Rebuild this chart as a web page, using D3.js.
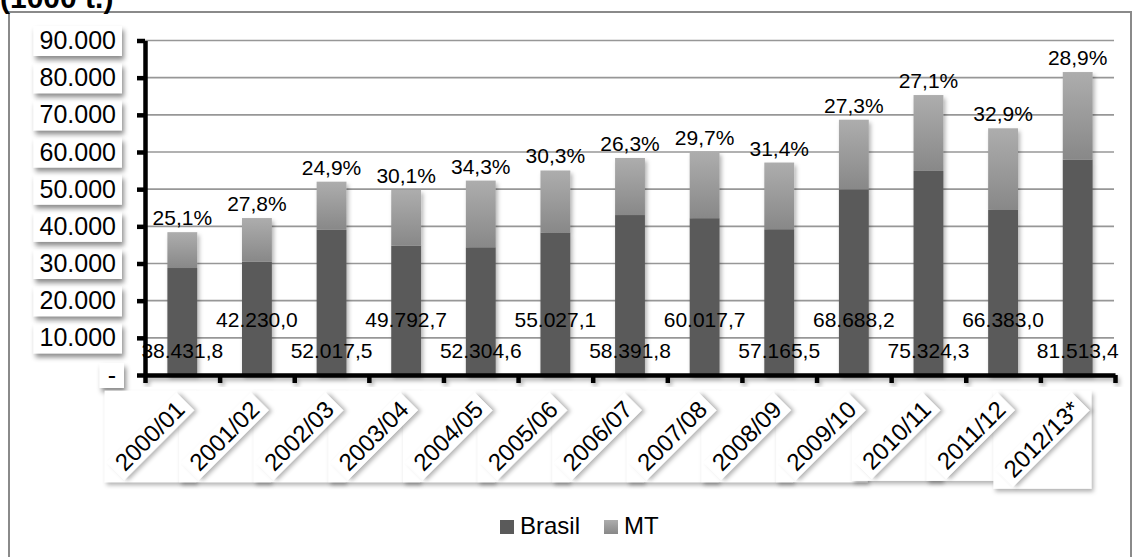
<!DOCTYPE html>
<html><head><meta charset="utf-8">
<script src="https://cdn.jsdelivr.net/npm/d3@7"></script>
<style>
body{margin:0;background:#fff}
svg{display:block;font-family:"Liberation Sans",Arial,sans-serif}
</style>
</head><body>
<svg id="c" width="1132" height="557"></svg>
<script>
// ---- data ----
const categories = ["2000/01","2001/02","2002/03","2003/04","2004/05","2005/06","2006/07","2007/08","2008/09","2009/10","2010/11","2011/12","2012/13*"];
const brasilTotal = [38431.8,42230.0,52017.5,49792.7,52304.6,55027.1,58391.8,60017.7,57165.5,68688.2,75324.3,66383.0,81513.4];
const mtShare = [25.1,27.8,24.9,30.1,34.3,30.3,26.3,29.7,31.4,27.3,27.1,32.9,28.9];
const brasilLabels = ["38.431,8","42.230,0","52.017,5","49.792,7","52.304,6","55.027,1","58.391,8","60.017,7","57.165,5","68.688,2","75.324,3","66.383,0","81.513,4"];
const shareLabels = ["25,1%","27,8%","24,9%","30,1%","34,3%","30,3%","26,3%","29,7%","31,4%","27,3%","27,1%","32,9%","28,9%"];
const yTickValues = [0,10000,20000,30000,40000,50000,60000,70000,80000,90000];
const yTickLabels = ["-","10.000","20.000","30.000","40.000","50.000","60.000","70.000","80.000","90.000"];
const seriesNames = ["Brasil","MT"];
const unitTitle = "(1000 t.)";

// ---- setup ----
const svg = d3.select("#c");
const defs = svg.append("defs");
const shadow = defs.append("filter").attr("id","sh").attr("x","-20%").attr("y","-20%").attr("width","150%").attr("height","160%");
shadow.append("feDropShadow").attr("dx",2).attr("dy",4).attr("stdDeviation",2.5).attr("flood-color","#000").attr("flood-opacity",0.45);
const shadowSoft = defs.append("filter").attr("id","shs").attr("x","-20%").attr("y","-20%").attr("width","150%").attr("height","160%");
shadowSoft.append("feDropShadow").attr("dx",2).attr("dy",3).attr("stdDeviation",2).attr("flood-color","#000").attr("flood-opacity",0.3);
const grad = defs.append("linearGradient").attr("id","mtg").attr("x1",0).attr("y1",0).attr("x2",0).attr("y2",1);
grad.append("stop").attr("offset","0%").attr("stop-color","#adadad");
grad.append("stop").attr("offset","100%").attr("stop-color","#888888");
const darkColor = "#5a5a5a";

// outer frame + title
svg.append("rect").attr("x",9).attr("y",12).attr("width",1122).attr("height",560)
  .attr("fill","none").attr("stroke","#8a8a8a").attr("stroke-width",2);
svg.append("text").attr("x",0).attr("y",8).attr("font-weight","bold").attr("font-size",30).text(unitTitle);

const y = d3.scaleLinear().domain([0,90000]).range([375,40.5]);
const x = d3.scaleBand().domain(categories).range([145,1115]).paddingInner(0.6).paddingOuter(0.3);
const xb = d3.scaleLinear().domain([0,categories.length]).range([145,1115]);
const cx = c => x(c) + x.bandwidth()/2;

// gridlines
svg.append("g").selectAll("line").data(yTickValues.filter(v=>v>0)).join("line")
  .attr("x1",145).attr("x2",1114).attr("y1",d=>y(d)).attr("y2",d=>y(d))
  .attr("stroke","#979797").attr("stroke-width",1.6);

// stacked bars
const rows = categories.map((c,i)=>{
  const mt = brasilTotal[i]*mtShare[i]/100;
  return {c,i,total:brasilTotal[i],base:brasilTotal[i]-mt,mt};
});
const bars = svg.append("g").attr("filter","url(#shs)");
bars.selectAll("rect.b").data(rows).join("rect").attr("class","b")
  .attr("x",d=>x(d.c)).attr("width",x.bandwidth())
  .attr("y",d=>y(d.base)).attr("height",d=>y(0)-y(d.base)).attr("fill",darkColor);
bars.selectAll("rect.m").data(rows).join("rect").attr("class","m")
  .attr("x",d=>x(d.c)).attr("width",x.bandwidth())
  .attr("y",d=>y(d.total)).attr("height",d=>y(d.base)-y(d.total)).attr("fill","url(#mtg)");

// Brasil total labels (alternating rows)
svg.append("g").selectAll("text").data(rows).join("text")
  .attr("x",d=>cx(d.c)).attr("y",d=>y(0)-(d.i%2===0?17:48))
  .attr("text-anchor","middle").attr("font-size",21).attr("fill","#000")
  .text(d=>brasilLabels[d.i]);

// axes
const yAxis = d3.axisLeft(y).tickValues(yTickValues).tickSize(8).tickSizeOuter(0).tickPadding(21)
  .tickFormat((d,i)=>yTickLabels[i]);
const gy = svg.append("g").attr("transform","translate(145,0)").call(yAxis);
gy.select(".domain").attr("stroke","#000").attr("stroke-width",4.5);
gy.selectAll(".tick line").attr("stroke","#000").attr("stroke-width",4.5);
gy.selectAll(".tick text").attr("font-size",25).attr("font-family","Liberation Sans, Arial, sans-serif").attr("fill","#000");
gy.selectAll(".tick").each(function(){
  const t = d3.select(this).select("text");
  const bb = t.node().getBBox();
  const isDash = t.text()==="-";
  const padX = isDash?8:6, h = isDash?25:30;
  d3.select(this).insert("rect","text")
    .attr("x",bb.x+bb.width-(bb.width+2*padX)+padX).attr("y",-h/2)
    .attr("width",bb.width+2*padX).attr("height",h)
    .attr("fill","#fff").attr("filter","url(#sh)");
});

const xAxis = d3.axisBottom(xb).tickValues(d3.range(categories.length+1)).tickSize(8).tickSizeOuter(0).tickFormat("");
const gx = svg.append("g").attr("transform",`translate(0,${y(0)})`).attr("filter","url(#shs)").call(xAxis);
gx.select(".domain").attr("stroke","#000").attr("stroke-width",4.5);
gx.selectAll(".tick line").attr("stroke","#000").attr("stroke-width",4.5);

// share labels above bars
svg.append("g").selectAll("text").data(rows).join("text")
  .attr("x",d=>cx(d.c)).attr("y",d=>y(d.total)-7)
  .attr("text-anchor","middle").attr("font-size",21).attr("fill","#000")
  .text(d=>shareLabels[d.i]);

// rotated category labels with boxes
const fs = 24;
const tmp = svg.append("text").attr("font-size",fs);
const lab = rows.map(d=>{ tmp.text(d.c); return {...d, w: tmp.node().getComputedTextLength()}; });
tmp.remove();
const r = Math.SQRT1_2;
lab.forEach(d=>{
  d.ox = cx(d.c)+4; d.oy = 411;
  const pts = [[-d.w-6,-20],[6,-20],[6,5],[-d.w-6,5]].map(([a,b])=>[d.ox+r*(a+b), d.oy+r*(b-a)]);
  d.bx0 = d3.min(pts,p=>p[0]); d.bx1 = d3.max(pts,p=>p[0]);
  d.by0 = d3.min(pts,p=>p[1]); d.by1 = d3.max(pts,p=>p[1]);
});
const lg = svg.append("g");
lg.selectAll("rect.box").data(lab).join("rect").attr("class","box")
  .attr("x",d=>d.bx0-2).attr("y",d=>d.by0-2).attr("width",d=>d.bx1-d.bx0+4).attr("height",d=>d.by1-d.by0+4)
  .attr("fill","#fff").attr("filter","url(#shs)");
const lt = lg.selectAll("g.lt").data(lab).join("g").attr("class","lt")
  .attr("transform",d=>`translate(${d.ox},${d.oy}) rotate(-45)`);
lt.append("rect").attr("x",d=>-d.w-6).attr("y",-20).attr("width",d=>d.w+12).attr("height",25)
  .attr("fill","#fff").attr("filter","url(#shs)");
lt.append("text").attr("text-anchor","end").attr("font-size",fs).attr("fill","#000").text(d=>d.c);

// legend
const legend = svg.append("g");
const legItems = [{name:seriesNames[0],fill:darkColor,x:500},{name:seriesNames[1],fill:"url(#mtg)",x:604}];
legItems.forEach(it=>{
  legend.append("rect").attr("x",it.x).attr("y",520).attr("width",14).attr("height",14).attr("fill",it.fill);
  legend.append("text").attr("x",it.x+20).attr("y",534).attr("font-size",24).attr("fill","#000").text(it.name);
});
</script>
</body></html>
